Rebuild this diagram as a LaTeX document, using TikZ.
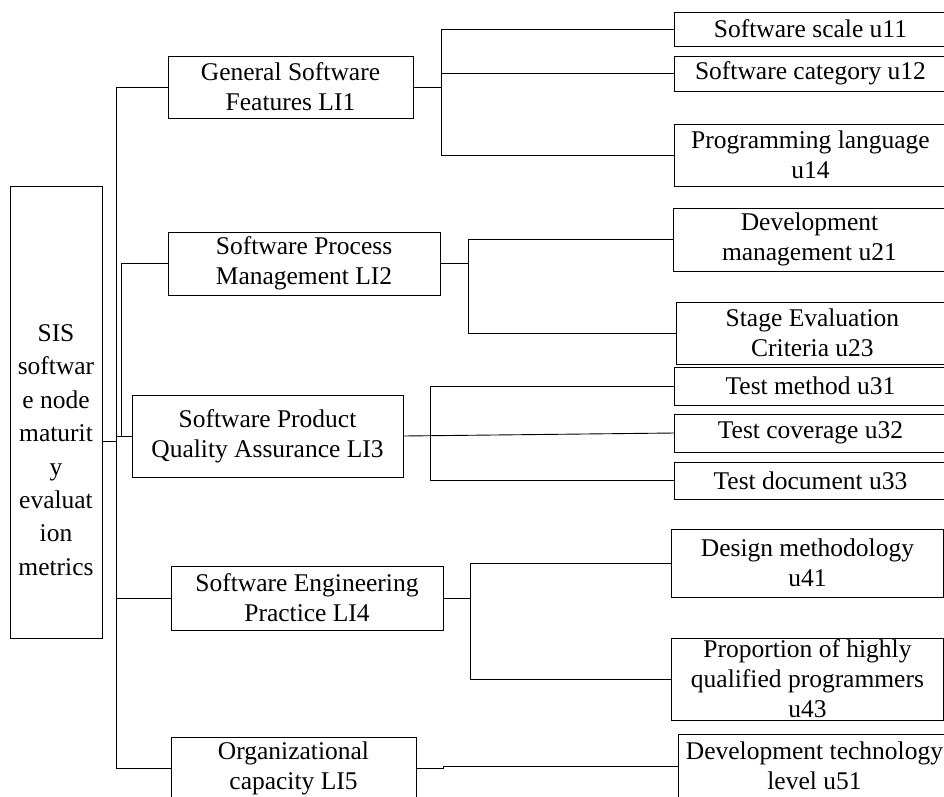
\documentclass[tikz,border=0pt]{standalone}
\usepackage{fontspec}
\setmainfont{Liberation Serif}

\begin{document}
\begin{tikzpicture}[x=1pt,y=-1pt,line width=0.9pt,
    box/.style={draw,rectangle,inner sep=0pt,align=center,font=\fontsize{25.5}{30}\selectfont},
    leaf/.style={box,anchor=west,minimum width=272}]
  \useasboundingbox (0,0) rectangle (944,796);

  % root
  \node[box,minimum width=92,minimum height=452] (rootbox) at (56,412) {};
  \node[align=center,inner sep=0pt,font=\fontsize{25.5}{33.4}\selectfont] (roottext) at (56,450)
    {SIS\\softwar\\e node\\maturit\\y\\evaluat\\ion\\metrics};

  % first level
  \node[box,minimum width=245,minimum height=62] (LI1) at (290.5,87)  {General Software\\Features LI1};
  \node[box,minimum width=272,minimum height=63] (LI2) at (304,263.5) {Software Process\\Management LI2};
  \node[box,minimum width=271,minimum height=82] (LI3) at (267.5,436) {Software Product\\Quality Assurance LI3};
  \node[box,minimum width=272,minimum height=64] (LI4) at (307,598)   {Software Engineering\\Practice LI4};
  \node[box,minimum width=245,minimum height=62] (LI5) at (293.5,768) {Organizational\\capacity LI5};

  % second level
  \node[leaf,minimum height=34] (u11) at (674,29)    {Software scale u11};
  \node[leaf,minimum height=35] (u12) at (674,73.5)  {Software category u12};
  \node[leaf,minimum height=62] (u14) at (674,155)   {Programming language\\u14};
  \node[leaf,minimum height=63] (u21) at (673,239.5) {Development\\management u21};
  \node[leaf,minimum height=62] (u23) at (676,333)   {Stage Evaluation\\Criteria u23};
  \node[leaf,minimum height=38] (u31) at (674,386)   {Test method u31};
  \node[leaf,minimum height=38] (u32) at (674,433)   {Test coverage u32};
  \node[leaf,minimum height=37] (u33) at (674,480.5) {Test document u33};
  \node[leaf,minimum height=68] (u41) at (671,563)   {Design methodology\\u41};
  \node[leaf,minimum height=82] (u43) at (671,679)   {Proportion of highly\\qualified programmers\\u43};
  \node[leaf,minimum height=64] (u51) at (678,766)   {Development technology\\level u51};

  % bus positions
  \coordinate (rootjoin) at (116,441);
  \coordinate (mtop) at (116,87);
  \coordinate (mbot) at (116,768);
  \coordinate (sbus) at (121,436);
  \coordinate (b1) at (441,0);
  \coordinate (b2) at (468,0);
  \coordinate (b3) at (430,0);
  \coordinate (b4) at (470,0);

  % root to first level
  \draw (rootbox.east |- rootjoin) -- (rootjoin);
  \draw (LI1.west) -- (mtop) -- (mbot) -- (LI5.west);
  \draw (LI2.west) -| (sbus);
  \draw (LI3.west) -- (LI3.west -| mtop);
  \draw (LI4.west) -- (LI4.west -| mtop);

  % LI1
  \draw (LI1.east) -- (LI1.east -| b1);
  \draw (u11.west) -- (u11.west -| b1) -- (u14.west -| b1) -- (u14.west);
  \draw (u12.west) -- (u12.west -| b1);
  % LI2
  \draw (LI2.east) -- (LI2.east -| b2);
  \draw (u21.west) -- (u21.west -| b2) -- (u23.west -| b2) -- (u23.west);
  % LI3
  \draw (LI3.east) -- (u32.west);
  \draw (u31.west) -- (u31.west -| b3) -- (u33.west -| b3) -- (u33.west);
  % LI4
  \draw (LI4.east) -- (LI4.east -| b4);
  \draw (u41.west) -- (u41.west -| b4) -- (u43.west -| b4) -- (u43.west);
  % LI5
  \draw (LI5.east) -- ++(27,0) |- (u51.west);
\end{tikzpicture}
\end{document}
